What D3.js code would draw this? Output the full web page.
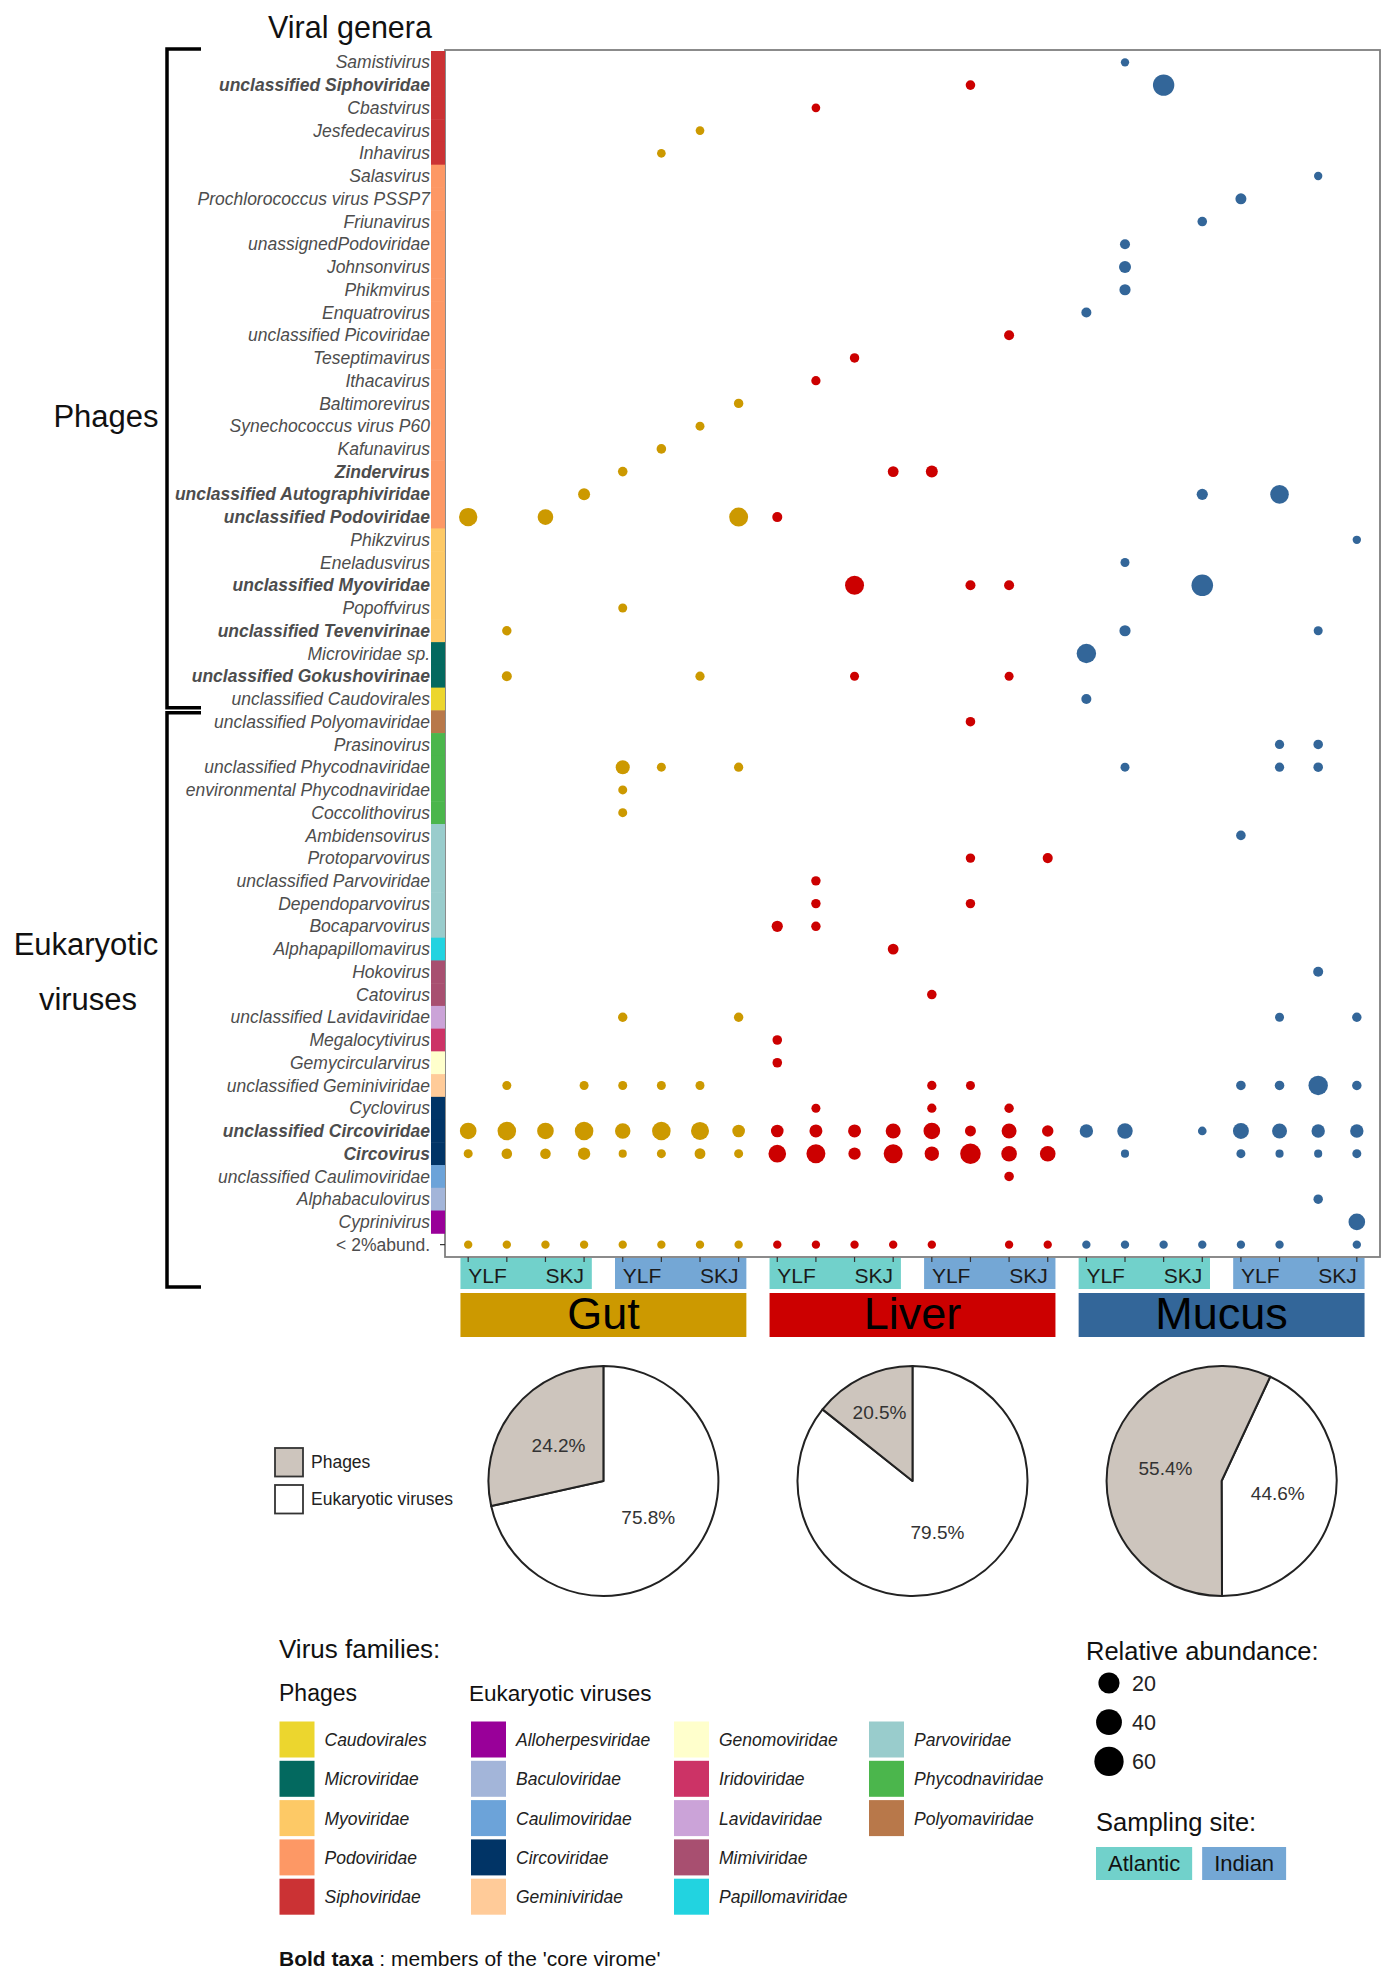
<!DOCTYPE html>
<html>
<head>
<meta charset="utf-8">
<script src="https://d3js.org/d3.v7.min.js"></script>
<style>
  body { margin: 0; background: #fff; }
  svg { font-family: "Liberation Sans", Arial, sans-serif; display: block; }
</style>
</head>
<body>
<svg id="svg" width="1399" height="1974"></svg>
<script>
// DATA
const genera = [
  "Samistivirus", "unclassified Siphoviridae", "Cbastvirus", "Jesfedecavirus", "Inhavirus",
  "Salasvirus", "Prochlorococcus virus PSSP7", "Friunavirus", "unassignedPodoviridae", "Johnsonvirus",
  "Phikmvirus", "Enquatrovirus", "unclassified Picoviridae", "Teseptimavirus", "Ithacavirus",
  "Baltimorevirus", "Synechococcus virus P60", "Kafunavirus", "Zindervirus", "unclassified Autographiviridae",
  "unclassified Podoviridae", "Phikzvirus", "Eneladusvirus", "unclassified Myoviridae", "Popoffvirus",
  "unclassified Tevenvirinae", "Microviridae sp.", "unclassified Gokushovirinae", "unclassified Caudovirales",
  "unclassified Polyomaviridae", "Prasinovirus", "unclassified Phycodnaviridae", "environmental Phycodnaviridae",
  "Coccolithovirus", "Ambidensovirus", "Protoparvovirus", "unclassified Parvoviridae", "Dependoparvovirus",
  "Bocaparvovirus", "Alphapapillomavirus", "Hokovirus", "Catovirus", "unclassified Lavidaviridae",
  "Megalocytivirus", "Gemycircularvirus", "unclassified Geminiviridae", "Cyclovirus", "unclassified Circoviridae",
  "Circovirus", "unclassified Caulimoviridae", "Alphabaculovirus", "Cyprinivirus", "< 2%abund."
]
const generaFamily = [
  "Siphoviridae", "Siphoviridae", "Siphoviridae", "Siphoviridae", "Siphoviridae",
  "Podoviridae", "Podoviridae", "Podoviridae", "Podoviridae", "Podoviridae",
  "Podoviridae", "Podoviridae", "Podoviridae", "Podoviridae", "Podoviridae",
  "Podoviridae", "Podoviridae", "Podoviridae", "Podoviridae", "Podoviridae",
  "Podoviridae", "Myoviridae", "Myoviridae", "Myoviridae", "Myoviridae",
  "Myoviridae", "Microviridae", "Microviridae", "Caudovirales",
  "Polyomaviridae", "Phycodnaviridae", "Phycodnaviridae", "Phycodnaviridae",
  "Phycodnaviridae", "Parvoviridae", "Parvoviridae", "Parvoviridae", "Parvoviridae",
  "Parvoviridae", "Papillomaviridae", "Mimiviridae", "Mimiviridae", "Lavidaviridae",
  "Iridoviridae", "Genomoviridae", "Geminiviridae", "Circoviridae", "Circoviridae",
  "Circoviridae", "Caulimoviridae", "Baculoviridae", "Alloherpesviridae", null
]
// members of the 'core virome' (bold)
const coreGenera = [
  "unclassified Siphoviridae", "Zindervirus", "unclassified Autographiviridae", "unclassified Podoviridae",
  "unclassified Myoviridae", "unclassified Tevenvirinae", "unclassified Gokushovirinae",
  "unclassified Circoviridae", "Circovirus"
]
const firstEukaryotic = "unclassified Polyomaviridae"

const tissues = ["Gut", "Liver", "Mucus"]
const sites = ["Atlantic", "Indian"]
const species = ["YLF", "SKJ"]
// 8 samples per tissue: Atlantic YLF x2, Atlantic SKJ x2, Indian YLF x2, Indian SKJ x2
const samples = [
  "G1", "G2", "G3", "G4", "G5", "G6", "G7", "G8",
  "L1", "L2", "L3", "L4", "L5", "L6", "L7", "L8",
  "M1", "M2", "M3", "M4", "M5", "M6", "M7", "M8"
]

// [genus, sample, relative abundance %]
const abundance = [
  ["Samistivirus", "M2", 2.2],
  ["unclassified Siphoviridae", "L6", 3.4], ["unclassified Siphoviridae", "M3", 70],
  ["Cbastvirus", "L2", 2.4],
  ["Jesfedecavirus", "G7", 2.4],
  ["Inhavirus", "G6", 2.4],
  ["Salasvirus", "M7", 2.2],
  ["Prochlorococcus virus PSSP7", "M5", 6.1],
  ["Friunavirus", "M4", 3.4],
  ["unassignedPodoviridae", "M2", 4.1],
  ["Johnsonvirus", "M2", 8.9],
  ["Phikmvirus", "M2", 6.6],
  ["Enquatrovirus", "M1", 4.1],
  ["unclassified Picoviridae", "L7", 4.1],
  ["Teseptimavirus", "L3", 3.2],
  ["Ithacavirus", "L2", 3.0],
  ["Baltimorevirus", "G8", 3.2],
  ["Synechococcus virus P60", "G7", 2.7],
  ["Kafunavirus", "G6", 3.4],
  ["Zindervirus", "G5", 3.4], ["Zindervirus", "L4", 5.7], ["Zindervirus", "L5", 8.9],
  ["unclassified Autographiviridae", "G4", 8.9], ["unclassified Autographiviridae", "M4", 6.6],
  ["unclassified Autographiviridae", "M6", 45],
  ["unclassified Podoviridae", "G1", 43.6], ["unclassified Podoviridae", "G3", 25],
  ["unclassified Podoviridae", "G8", 48], ["unclassified Podoviridae", "L1", 4.1],
  ["Phikzvirus", "M8", 2.2],
  ["Eneladusvirus", "M2", 2.7],
  ["unclassified Myoviridae", "L3", 48], ["unclassified Myoviridae", "L6", 4.1],
  ["unclassified Myoviridae", "L7", 4.1], ["unclassified Myoviridae", "M4", 72],
  ["Popoffvirus", "G5", 2.7],
  ["unclassified Tevenvirinae", "G2", 3.2], ["unclassified Tevenvirinae", "M2", 6.6],
  ["unclassified Tevenvirinae", "M7", 2.7],
  ["Microviridae sp.", "M1", 52],
  ["unclassified Gokushovirinae", "G2", 4.1], ["unclassified Gokushovirinae", "G7", 3.0],
  ["unclassified Gokushovirinae", "L3", 2.7], ["unclassified Gokushovirinae", "L7", 2.7],
  ["unclassified Caudovirales", "M1", 4.1],
  ["unclassified Polyomaviridae", "L6", 3.4],
  ["Prasinovirus", "M6", 3.0], ["Prasinovirus", "M7", 3.4],
  ["unclassified Phycodnaviridae", "G5", 17], ["unclassified Phycodnaviridae", "G6", 2.7],
  ["unclassified Phycodnaviridae", "G8", 3.0], ["unclassified Phycodnaviridae", "M2", 2.7],
  ["unclassified Phycodnaviridae", "M6", 3.0], ["unclassified Phycodnaviridae", "M7", 3.4],
  ["environmental Phycodnaviridae", "G5", 2.7],
  ["Coccolithovirus", "G5", 2.7],
  ["Ambidensovirus", "M5", 3.4],
  ["Protoparvovirus", "L6", 3.2], ["Protoparvovirus", "L8", 4.1],
  ["unclassified Parvoviridae", "L2", 3.2],
  ["Dependoparvovirus", "L2", 3.2], ["Dependoparvovirus", "L6", 3.2],
  ["Bocaparvovirus", "L1", 6.6], ["Bocaparvovirus", "L2", 3.2],
  ["Alphapapillomavirus", "L4", 5.7],
  ["Hokovirus", "M7", 4.1],
  ["Catovirus", "L5", 3.4],
  ["unclassified Lavidaviridae", "G5", 3.2], ["unclassified Lavidaviridae", "G8", 3.2],
  ["unclassified Lavidaviridae", "M6", 2.7], ["unclassified Lavidaviridae", "M8", 3.2],
  ["Megalocytivirus", "L1", 3.4],
  ["Gemycircularvirus", "L1", 3.4],
  ["unclassified Geminiviridae", "G2", 2.7], ["unclassified Geminiviridae", "G4", 2.7],
  ["unclassified Geminiviridae", "G5", 2.7], ["unclassified Geminiviridae", "G6", 2.7],
  ["unclassified Geminiviridae", "G7", 2.7], ["unclassified Geminiviridae", "L5", 3.0],
  ["unclassified Geminiviridae", "L6", 2.7], ["unclassified Geminiviridae", "M5", 3.4],
  ["unclassified Geminiviridae", "M6", 3.4], ["unclassified Geminiviridae", "M7", 52],
  ["unclassified Geminiviridae", "M8", 3.2],
  ["Cyclovirus", "L2", 2.7], ["Cyclovirus", "L5", 3.0], ["Cyclovirus", "L7", 3.2],
  ["unclassified Circoviridae", "G1", 31], ["unclassified Circoviridae", "G2", 45],
  ["unclassified Circoviridae", "G3", 31], ["unclassified Circoviridae", "G4", 45],
  ["unclassified Circoviridae", "G5", 24], ["unclassified Circoviridae", "G6", 45],
  ["unclassified Circoviridae", "G7", 41], ["unclassified Circoviridae", "G8", 11],
  ["unclassified Circoviridae", "L1", 11], ["unclassified Circoviridae", "L2", 12.4],
  ["unclassified Circoviridae", "L3", 12.4], ["unclassified Circoviridae", "L4", 21.5],
  ["unclassified Circoviridae", "L5", 31], ["unclassified Circoviridae", "L6", 6.1],
  ["unclassified Circoviridae", "L7", 21.5], ["unclassified Circoviridae", "L8", 7.2],
  ["unclassified Circoviridae", "M1", 14], ["unclassified Circoviridae", "M2", 24],
  ["unclassified Circoviridae", "M4", 2.4], ["unclassified Circoviridae", "M5", 27],
  ["unclassified Circoviridae", "M6", 21.5], ["unclassified Circoviridae", "M7", 14],
  ["unclassified Circoviridae", "M8", 14],
  ["Circovirus", "G1", 2.7], ["Circovirus", "G2", 5.2], ["Circovirus", "G3", 5.2],
  ["Circovirus", "G4", 10.2], ["Circovirus", "G5", 2.1], ["Circovirus", "G6", 2.7],
  ["Circovirus", "G7", 5.7], ["Circovirus", "G8", 2.7],
  ["Circovirus", "L1", 38], ["Circovirus", "L2", 48], ["Circovirus", "L3", 10],
  ["Circovirus", "L4", 48], ["Circovirus", "L5", 18.5], ["Circovirus", "L6", 62],
  ["Circovirus", "L7", 25], ["Circovirus", "L8", 25],
  ["Circovirus", "M2", 2.1], ["Circovirus", "M5", 2.7], ["Circovirus", "M6", 2.1],
  ["Circovirus", "M7", 2.1], ["Circovirus", "M8", 2.7],
  ["unclassified Caulimoviridae", "L7", 3.4],
  ["Alphabaculovirus", "M7", 3.2],
  ["Cyprinivirus", "M8", 31],
  ["< 2%abund.", "G1", 2.2], ["< 2%abund.", "G2", 2.2], ["< 2%abund.", "G3", 2.2],
  ["< 2%abund.", "G4", 2.2], ["< 2%abund.", "G5", 2.2], ["< 2%abund.", "G6", 2.2],
  ["< 2%abund.", "G7", 2.2], ["< 2%abund.", "G8", 2.2],
  ["< 2%abund.", "L1", 2.2], ["< 2%abund.", "L2", 2.2], ["< 2%abund.", "L3", 2.2],
  ["< 2%abund.", "L4", 2.2], ["< 2%abund.", "L5", 2.2], ["< 2%abund.", "L7", 2.2],
  ["< 2%abund.", "L8", 2.2],
  ["< 2%abund.", "M1", 2.2], ["< 2%abund.", "M2", 2.2], ["< 2%abund.", "M3", 2.2],
  ["< 2%abund.", "M4", 2.2], ["< 2%abund.", "M5", 2.2], ["< 2%abund.", "M6", 2.2],
  ["< 2%abund.", "M8", 2.2]
]

const phageFamilies = ["Caudovirales", "Microviridae", "Myoviridae", "Podoviridae", "Siphoviridae"]
const eukFamilies = [
  "Alloherpesviridae", "Baculoviridae", "Caulimoviridae", "Circoviridae", "Geminiviridae",
  "Genomoviridae", "Iridoviridae", "Lavidaviridae", "Mimiviridae", "Papillomaviridae",
  "Parvoviridae", "Phycodnaviridae", "Polyomaviridae"
]
const phageFamilyColors = ["#ECD62E", "#03695F", "#FDC966", "#FD9865", "#CB3234"]
const eukFamilyColors = [
  "#990099", "#A3B5D9", "#6CA3D9", "#013466", "#FFCB99",
  "#FFFFCC", "#CC3366", "#CBA3D8", "#A84F70", "#22D3E0",
  "#99CCCC", "#4BB64C", "#B8784A"
]

// pies: share of phages per tissue. Slices as drawn; labels as printed
const pieDrawnPhageShare = [28.5, 14.3, 57.0]
const piePrintedPhage = ["24.2%", "20.5%", "55.4%"]
const piePrintedEuk = ["75.8%", "79.5%", "44.6%"]
const pieStartDeg = [0, 0, 25]

const sizeBreaks = [20, 40, 60]

// LAYOUT
const panel = { left: 445, right: 1380, top: 50, bottom: 1257 }
const svg = d3.select("#svg")

const x = d3.scalePoint().domain(samples).range([panel.left, panel.right]).padding(0.6)
const y = d3.scaleBand().domain(genera).range([panel.top + 1, panel.bottom - 1])
const famColor = d3.scaleOrdinal()
  .domain(phageFamilies.concat(eukFamilies))
  .range(phageFamilyColors.concat(eukFamilyColors))
const tissueColor = d3.scaleOrdinal().domain(tissues).range(["#CC9900", "#CC0000", "#336699"])
const siteColor = d3.scaleOrdinal().domain(sites).range(["#71D1CB", "#74A7D5"])
const sampleTissue = s => tissues[Math.floor(samples.indexOf(s) / 8)]

const area = d3.scaleLinear().domain([2, d3.max(abundance, d => d[2])]).range([0, 1]).clamp(true)
const radius = v => 3.8 + (10.8 - 3.8) * Math.sqrt(area(v))
const legendZoom = 1.44

// panel
svg.append("rect")
  .attr("x", panel.left).attr("y", panel.top)
  .attr("width", panel.right - panel.left).attr("height", panel.bottom - panel.top)
  .attr("fill", "#fff").attr("stroke", "#7f7f7f").attr("stroke-width", 1.8)

// y ticks (only the last one is not hidden by the family bar)
svg.append("g").selectAll("line").data(genera).join("line")
  .attr("x1", panel.left - 5).attr("x2", panel.left)
  .attr("y1", d => y(d) + y.bandwidth() / 2).attr("y2", d => y(d) + y.bandwidth() / 2)
  .attr("stroke", "#333").attr("stroke-width", 1.2)

// family colour bar
svg.append("g").selectAll("rect")
  .data(genera.map((g, i) => ({ g, f: generaFamily[i] })).filter(d => d.f))
  .join("rect")
  .attr("x", 431).attr("width", panel.left - 431)
  .attr("y", d => y(d.g)).attr("height", y.bandwidth() + 0.5)
  .attr("fill", d => famColor(d.f))

// genus labels
svg.append("g").selectAll("text").data(genera).join("text")
  .attr("x", 430).attr("y", d => y(d) + y.bandwidth() / 2)
  .attr("dy", "0.35em").attr("text-anchor", "end")
  .attr("font-size", 17.5).attr("fill", "#4d4d4d")
  .attr("font-style", d => d.startsWith("<") ? "normal" : "italic")
  .attr("font-weight", d => coreGenera.includes(d) ? "bold" : "normal")
  .text(d => d)

// dots
svg.append("g").selectAll("circle").data(abundance).join("circle")
  .attr("cx", d => x(d[1]))
  .attr("cy", d => y(d[0]) + y.bandwidth() / 2)
  .attr("r", d => radius(d[2]))
  .attr("fill", d => tissueColor(sampleTissue(d[1])))

// title
svg.append("text").attr("x", 350).attr("y", 38).attr("text-anchor", "middle")
  .attr("font-size", 30.5).attr("fill", "#111").text("Viral genera")

// brackets
const split = y(firstEukaryotic)
const stripTop = panel.bottom + 1, stripBottom = panel.bottom + 32
const tissueTop = stripBottom + 4, tissueBottom = tissueTop + 44
const bracket = d3.line()
svg.append("path")
  .attr("d", bracket([[201, panel.top - 1], [167, panel.top - 1], [167, split - 2.5], [201, split - 2.5]]))
  .attr("fill", "none").attr("stroke", "#000").attr("stroke-width", 3.5)
svg.append("path")
  .attr("d", bracket([[201, split + 2.5], [167, split + 2.5], [167, stripBottom - 2], [201, stripBottom - 2]]))
  .attr("fill", "none").attr("stroke", "#000").attr("stroke-width", 3.5)
svg.append("text").attr("x", 106).attr("y", 427).attr("text-anchor", "middle")
  .attr("font-size", 31).attr("fill", "#111").text("Phages")
svg.append("text").attr("x", 86).attr("y", 955).attr("text-anchor", "middle")
  .attr("font-size", 31).attr("fill", "#111").text("Eukaryotic")
svg.append("text").attr("x", 88).attr("y", 1010).attr("text-anchor", "middle")
  .attr("font-size", 31).attr("fill", "#111").text("viruses")

// site strips + species labels
const half = x.step() * 0.2
tissues.forEach((t, ti) => {
  sites.forEach((s, si) => {
    const idx = ti * 8 + si * 4
    const x0 = x(samples[idx]) - half, x1 = x(samples[idx + 3]) + half
    svg.append("rect").attr("x", x0).attr("y", stripTop).attr("width", x1 - x0)
      .attr("height", stripBottom - stripTop).attr("fill", siteColor(s))
    species.forEach((sp, k) => {
      const cx = (x(samples[idx + 2 * k]) + x(samples[idx + 2 * k + 1])) / 2
      svg.append("text").attr("x", cx).attr("y", stripBottom - 6)
        .attr("text-anchor", "middle").attr("font-size", 21).attr("fill", "#1a1a1a").text(sp)
    })
  })
  const x0 = x(samples[ti * 8]) - half, x1 = x(samples[ti * 8 + 7]) + half
  svg.append("rect").attr("x", x0).attr("y", tissueTop).attr("width", x1 - x0)
    .attr("height", tissueBottom - tissueTop).attr("fill", tissueColor(t))
  svg.append("text").attr("x", (x0 + x1) / 2).attr("y", tissueBottom - 8)
    .attr("text-anchor", "middle").attr("font-size", 45).attr("fill", "#000").text(t)
})

// x ticks
svg.append("g").selectAll("line").data(samples).join("line")
  .attr("x1", d => x(d)).attr("x2", d => x(d))
  .attr("y1", panel.bottom).attr("y2", panel.bottom + 5)
  .attr("stroke", "#333").attr("stroke-width", 1.2)

// pies
const pieR = 115, pieCy = 1481
const phageFill = "#CDC5BD"
const arc = d3.arc().innerRadius(0).outerRadius(pieR)
tissues.forEach((t, ti) => {
  const cx = (x(samples[ti * 8]) + x(samples[ti * 8 + 7])) / 2
  const start = pieStartDeg[ti] * Math.PI / 180
  const slices = d3.pie().sort(null).value(d => d.v)
    .startAngle(start).endAngle(start + 2 * Math.PI)([
      { k: "Eukaryotic viruses", v: 100 - pieDrawnPhageShare[ti], label: piePrintedEuk[ti] },
      { k: "Phages", v: pieDrawnPhageShare[ti], label: piePrintedPhage[ti] }
    ])
  const g = svg.append("g").attr("transform", `translate(${cx},${pieCy})`)
  g.selectAll("path").data(slices).join("path")
    .attr("d", arc)
    .attr("fill", d => d.data.k === "Phages" ? phageFill : "#fff")
    .attr("stroke", "#222").attr("stroke-width", 2).attr("stroke-linejoin", "round")
  g.selectAll("text").data(slices).join("text")
    .attr("transform", d => {
      // narrow slices get their label pushed further out
      const lr = pieR * (d.endAngle - d.startAngle < 1.2 ? 0.66 : 0.5)
      return `translate(${d3.arc().innerRadius(lr).outerRadius(lr).centroid(d)})`
    })
    .attr("dy", "0.35em").attr("text-anchor", "middle")
    .attr("font-size", 19).attr("fill", "#333")
    .text(d => d.data.label)
})

// pie legend
const pieLegend = [["Phages", phageFill], ["Eukaryotic viruses", "#fff"]]
pieLegend.forEach((d, i) => {
  const top = 1448 + i * 37
  svg.append("rect").attr("x", 275).attr("y", top).attr("width", 28).attr("height", 28.5)
    .attr("fill", d[1]).attr("stroke", "#333").attr("stroke-width", 1.8)
  svg.append("text").attr("x", 311).attr("y", top + 20).attr("font-size", 17.5)
    .attr("fill", "#222").text(d[0])
})

// virus families legend
svg.append("text").attr("x", 279).attr("y", 1658).attr("font-size", 26).attr("fill", "#111")
  .text("Virus families:")
svg.append("text").attr("x", 279).attr("y", 1701).attr("font-size", 23).attr("fill", "#111")
  .text("Phages")
svg.append("text").attr("x", 469).attr("y", 1701).attr("font-size", 22.5).attr("fill", "#111")
  .text("Eukaryotic viruses")
const legendCols = [279.5, 471, 674, 869]
const legendItems = phageFamilies.map((f, i) => ({ f, col: 0, row: i }))
  .concat(eukFamilies.map((f, i) => ({ f, col: 1 + Math.floor(i / 5), row: i % 5 })))
const famLegend = svg.append("g").selectAll("g").data(legendItems).join("g")
  .attr("transform", d => `translate(${legendCols[d.col]},${1721.5 + d.row * 39.3})`)
famLegend.append("rect").attr("width", 35).attr("height", 36).attr("fill", d => famColor(d.f))
famLegend.append("text").attr("x", 45).attr("y", 24.5).attr("font-size", 17.5)
  .attr("font-style", "italic").attr("fill", "#222").text(d => d.f)

// relative abundance legend
svg.append("text").attr("x", 1086).attr("y", 1660).attr("font-size", 25.5).attr("fill", "#111")
  .text("Relative abundance:")
const sizeLegend = svg.append("g").selectAll("g").data(sizeBreaks).join("g")
  .attr("transform", (d, i) => `translate(1109,${1683 + i * 39.2})`)
sizeLegend.append("circle").attr("r", d => radius(d) * legendZoom).attr("fill", "#000")
sizeLegend.append("text").attr("x", 23).attr("dy", "0.36em").attr("font-size", 21.5)
  .attr("fill", "#222").text(d => d)

// sampling site legend
svg.append("text").attr("x", 1096).attr("y", 1831).attr("font-size", 25.5).attr("fill", "#111")
  .text("Sampling site:")
let sx = 1096
sites.forEach(s => {
  const g = svg.append("g")
  const box = g.append("rect").attr("y", 1847).attr("height", 33).attr("fill", siteColor(s))
  const t = g.append("text").attr("y", 1871).attr("font-size", 22)
    .attr("text-anchor", "middle").attr("fill", "#111").text(s)
  const w = t.node().getComputedTextLength() + 24
  box.attr("x", sx).attr("width", w)
  t.attr("x", sx + w / 2)
  sx += w + 10
})

// footnote
const foot = svg.append("text").attr("x", 279).attr("y", 1966).attr("font-size", 21).attr("fill", "#111")
foot.append("tspan").attr("font-weight", "bold").text("Bold taxa")
foot.append("tspan").text(" : members of the 'core virome'")
</script>
</body>
</html>
